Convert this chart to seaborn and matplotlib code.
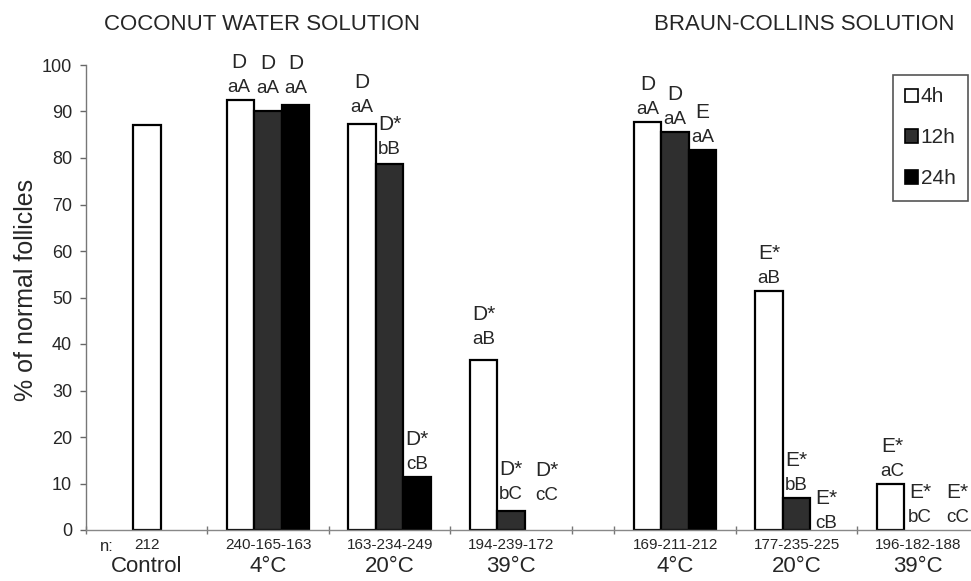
import numpy as np
import pandas as pd
import matplotlib
matplotlib.use("Agg")
import matplotlib.pyplot as plt
import seaborn as sns
from matplotlib.patches import Patch
from matplotlib.transforms import blended_transform_factory

# ---------------- data ----------------
control_value = [87.0]
control_n = "212"

solution_titles = ["COCONUT WATER SOLUTION", "BRAUN-COLLINS SOLUTION"]
time_levels = ["4h", "12h", "24h"]
temperatures = ["4°C"] * 3 + ["20°C"] * 3 + ["39°C"] * 3 + ["4°C"] * 3 + ["20°C"] * 3 + ["39°C"] * 3
solutions = ["CW"] * 9 + ["BC"] * 9
times = time_levels * 6
values = [92.5, 90.0, 91.5, 87.3, 78.8, 11.5, 36.6, 4.1, 0.0,
          87.8, 85.5, 81.7, 51.5, 6.8, 0.0, 9.8, 0.0, 0.0]
upper_letters = ["D", "D", "D", "D", "D*", "D*", "D*", "D*", "D*",
                 "D", "D", "E", "E*", "E*", "E*", "E*", "E*", "E*"]
lower_letters = ["aA", "aA", "aA", "aA", "bB", "cB", "aB", "bC", "cC",
                 "aA", "aA", "aA", "aB", "bB", "cB", "aC", "bC", "cC"]
group_labels = ["Control", "4°C", "20°C", "39°C", "4°C", "20°C", "39°C"]
group_n = ["212", "240-165-163", "163-234-249", "194-239-172",
           "169-211-212", "177-235-225", "196-182-188"]

# ---------------- layout ----------------
group_x = [0.0, 1.0, 2.0, 3.0, 4.35, 5.35, 6.35]
label_dx = [-2, 0, 0, 0, 0, 0, 0, 0, 8, 0, 0, 0, 0, 0, 2, 2, 2, 12]   # pixel nudges
label_dy = [0, 10, 4, 4, 2, 0, 8, 4, 22, 0, 0, 0, 0, 0, -6, 0, 0, 0]

df = pd.DataFrame({
    "pos": np.repeat(group_x[1:], 3),
    "solution": solutions,
    "temperature": temperatures,
    "time": times,
    "value": values,
})

sns.set_style("white")
plt.rcParams["font.family"] = ["Liberation Sans", "DejaVu Sans"]

fig = plt.figure(figsize=(9.71, 5.81), dpi=100)
ax = fig.add_axes([86 / 971, 1 - 530 / 581, 885 / 971, 465 / 581])

palette = {"4h": "white", "12h": "#2f2f2f", "24h": "black"}

sns.barplot(x=[group_x[0]], y=control_value, native_scale=True, width=0.227,
            color="white", saturation=1, edgecolor="black", linewidth=1.6,
            errorbar=None, ax=ax)
sns.barplot(data=df, x="pos", y="value", hue="time", hue_order=time_levels,
            palette=palette, saturation=1, native_scale=True, width=0.68,
            edgecolor="black", linewidth=1.6, errorbar=None, legend=False, ax=ax)

bars = [b for c in ax.containers[1:] for b in c]
bars.sort(key=lambda b: b.get_x() + b.get_width() / 2)
for i, b in enumerate(bars):
    xc = b.get_x() + b.get_width() / 2
    h = b.get_height()
    if h == 0:
        b.set_visible(False)
    ax.annotate(lower_letters[i], xy=(xc, h), xytext=(label_dx[i], 4 + label_dy[i]),
                textcoords="offset pixels", ha="center", va="bottom", fontsize=13.5)
    ax.annotate(upper_letters[i], xy=(xc, h), xytext=(label_dx[i], 28 + label_dy[i]),
                textcoords="offset pixels", ha="center", va="bottom", fontsize=15)

# axes styling
ax.set_ylim(0, 100)
ax.set_xlim(-0.498, 6.786)
ax.set_yticks(range(0, 101, 10))
ax.tick_params(axis="y", labelsize=13, length=4, width=1, color="#666666",
               direction="out", pad=6, left=True)
for s in ["top", "right"]:
    ax.spines[s].set_visible(False)
ax.spines["left"].set_color("#777777")
ax.spines["left"].set_linewidth(1)
ax.spines["bottom"].set_color("#888888")
ax.spines["bottom"].set_linewidth(1)

ax.set_xticks(group_x, labels=group_n)
ax.tick_params(axis="x", which="major", length=0, labelsize=11, pad=6)
ax.set_xticks([-0.5, 0.5, 1.5, 2.5, 3.5, 3.85, 4.85, 5.85], minor=True)
ax.tick_params(axis="x", which="minor", length=6, direction="inout",
               color="#777777", width=1, bottom=True)
ax.set_xlabel("")
ax.set_ylabel("% of normal follicles", fontsize=18)
ax.yaxis.set_label_coords(-0.054, 0.516)

trans = blended_transform_factory(ax.transData, ax.transAxes)
for gx, lab in zip(group_x, group_labels):
    ax.text(gx, -0.090, lab, transform=trans, ha="center", va="baseline", fontsize=16)
ax.text(0.0158, -0.045, "n:", transform=ax.transAxes, ha="left", va="baseline", fontsize=12)

fig.text(262 / 971, 1 - 25 / 581, solution_titles[0], ha="center", va="center", fontsize=16)
fig.text(804 / 971, 1 - 25 / 581, solution_titles[1], ha="center", va="center", fontsize=16)

handles = [Patch(facecolor=palette[t], edgecolor="black", linewidth=1.2) for t in time_levels]
leg = ax.legend(handles, time_levels, loc="upper right",
                bbox_to_anchor=(968 / 971, 1 - 75 / 581), bbox_transform=fig.transFigure,
                fontsize=15, handlelength=0.6, handleheight=0.6, handletextpad=0.15,
                labelspacing=1.05, borderpad=0.6, borderaxespad=0, fancybox=False,
                framealpha=1, edgecolor="#555555")
leg.get_frame().set_linewidth(1.2)

fig.savefig("out.png", dpi=100, facecolor="white")
